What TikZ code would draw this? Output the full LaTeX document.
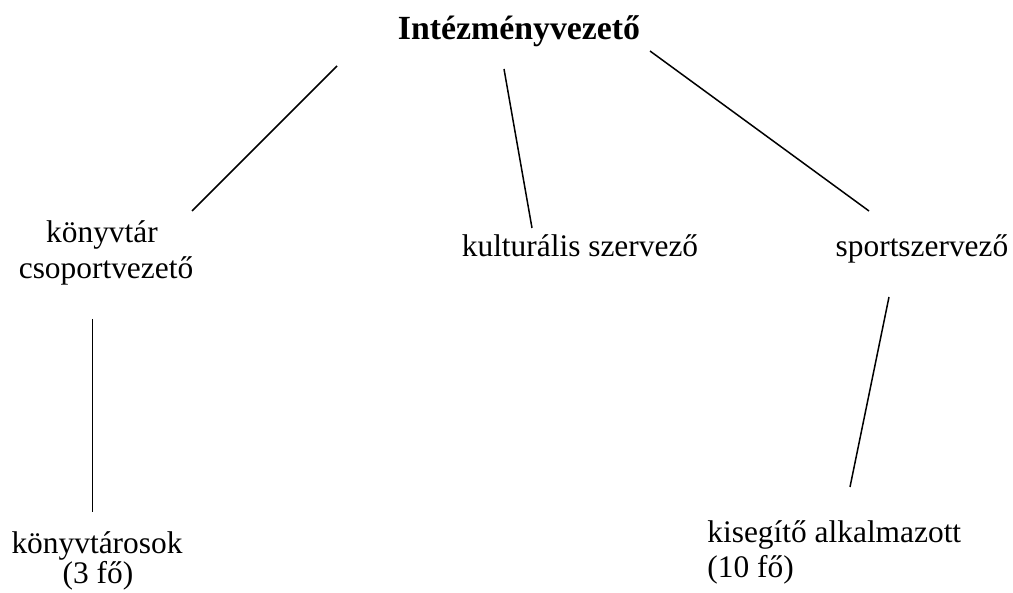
\documentclass[tikz,border=0pt]{standalone}
\usepackage{fontspec}
\setmainfont{Liberation Serif}
\begin{document}
\begin{tikzpicture}[x=0.5pt,y=-0.5pt,
  lbl/.style={inner sep=0pt, anchor=base, font=\fontsize{15.7}{19}\selectfont},
  conn/.style={line width=0.75pt}]
\useasboundingbox (0,0) rectangle (1013,593);
\node[lbl, font=\fontsize{16.9}{20}\selectfont\bfseries] (top) at (519,40) {Intézményvezető};
\node[lbl] (lib) at (102,243) {könyvtár};
\node[lbl] (lib2) at (106,279) {csoportvezető};
\node[lbl] (cult) at (580,257) {kulturális szervező};
\node[lbl] (sport) at (922,257) {sportszervező};
\node[lbl] (libs) at (97,553) {könyvtárosok};
\node[lbl] (libs2) at (98,583) {(3 fő)};
\node[lbl, anchor=base west] (help) at (707,542) {kisegítő alkalmazott};
\node[lbl, anchor=base west] (help2) at (707,577) {(10 fő)};
\coordinate (t1) at (337,66);
\coordinate (l1) at (192,211);
\coordinate (t2) at (504,69);
\coordinate (c1) at (532,228);
\coordinate (t3) at (650,51);
\coordinate (s1) at (869,211);
\coordinate (l2) at (92.5,319);
\coordinate (ls1) at (92.5,512);
\coordinate (s2) at (889,297);
\coordinate (h1) at (850,487);
\draw[conn] (t1) -- (l1);
\draw[conn] (t2) -- (c1);
\draw[conn] (t3) -- (s1);
\draw[conn] (l2) -- (ls1);
\draw[conn] (s2) -- (h1);
\end{tikzpicture}
\end{document}
